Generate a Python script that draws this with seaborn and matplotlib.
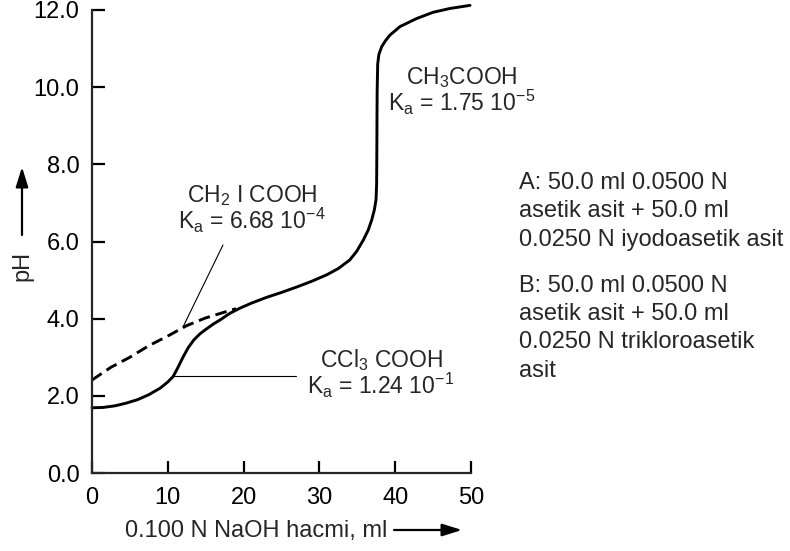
import matplotlib
matplotlib.use("Agg")
import matplotlib.pyplot as plt
import seaborn as sns
import pandas as pd

# ---- data ----
b_volume = [0, 1.5, 3, 4.5, 6, 7.5, 9, 10, 10.7, 11.3, 12, 12.7, 13.4, 14.2, 15, 16, 17,
            18.2, 19.5, 21, 23, 25, 27, 29, 31, 32.5, 34, 34.9, 35.8, 36.45, 36.9, 37.25,
            37.47, 37.55, 37.58, 37.6, 37.62, 37.69, 37.85, 38.22, 38.7, 39.31, 40.63,
            42.84, 44.99, 47.23, 49.87]
b_ph = [1.69, 1.70, 1.74, 1.81, 1.90, 2.03, 2.20, 2.36, 2.50, 2.72, 3.00, 3.25, 3.44,
        3.60, 3.72, 3.86, 3.98, 4.14, 4.27, 4.40, 4.55, 4.68, 4.82, 4.97, 5.14, 5.30,
        5.52, 5.74, 6.04, 6.30, 6.56, 6.82, 7.08, 7.50, 8.40, 9.30, 9.90, 10.60, 10.85,
        11.05, 11.20, 11.35, 11.57, 11.78, 11.94, 12.04, 12.12]

a_volume = [0, 2.5, 5, 7.5, 10, 12.5, 15, 17.5, 19]
a_ph = [2.41, 2.74, 3.00, 3.30, 3.55, 3.82, 4.02, 4.17, 4.26]

x_ticks = [0, 10, 20, 30, 40, 50]
y_ticks = [0.0, 2.0, 4.0, 6.0, 8.0, 10.0, 12.0]

label_ch3 = [r"CH$_3$COOH", r"K$_\mathrm{a}$ = 1.75 10$^{-5}$"]
label_ch2i = [r"CH$_2$ I COOH", r"K$_\mathrm{a}$ = 6.68 10$^{-4}$"]
label_ccl3 = [r"CCl$_3$ COOH", r"K$_\mathrm{a}$ = 1.24 10$^{-1}$"]
notes = ["A: 50.0 ml 0.0500 N", "asetik asit + 50.0 ml", "0.0250 N iyodoasetik asit",
         "B: 50.0 ml 0.0500 N", "asetik asit + 50.0 ml", "0.0250 N trikloroasetik", "asit"]
x_label = "0.100 N NaOH hacmi, ml"
y_label = "pH"

# ---- style ----
sns.set_style("ticks")
plt.rcParams["font.family"] = ["Liberation Sans", "DejaVu Sans"]
plt.rcParams["mathtext.fontset"] = "custom"
plt.rcParams["mathtext.rm"] = "Liberation Sans"
plt.rcParams["mathtext.it"] = "Liberation Sans:italic"
plt.rcParams["mathtext.default"] = "regular"
FS = 17
FS_ANN = 16.5

W, H = 790, 551
fig = plt.figure(figsize=(W / 100, H / 100), dpi=100)
ax = fig.add_axes([92 / W, (H - 473) / H, (471 - 92) / W, (473 - 10) / H])

df_b = pd.DataFrame({"v": b_volume, "ph": b_ph})
df_a = pd.DataFrame({"v": a_volume, "ph": a_ph})
sns.lineplot(data=df_b, x="v", y="ph", ax=ax, color="black", lw=2.1, sort=False,
             estimator=None)
sns.lineplot(data=df_a, x="v", y="ph", ax=ax, color="black", lw=2.1, sort=False,
             estimator=None)
ax.lines[-1].set_dashes((4, 2))
for ln in ax.lines:
    ln.set_clip_on(False)
    ln.set_solid_joinstyle("round")

ax.set_xlim(0, 50)
ax.set_ylim(0, 12)
ax.set_xticks(x_ticks)
ax.set_xticklabels([str(t) for t in x_ticks])
ax.set_yticks(y_ticks)
ax.set_yticklabels([f"{t:.1f}" for t in y_ticks])
ax.set_xlabel("")
ax.set_ylabel("")
for s in ["top", "right"]:
    ax.spines[s].set_visible(False)
for s in ["left", "bottom"]:
    ax.spines[s].set_linewidth(1.6)
ax.tick_params(direction="in", length=9, width=1.6, labelsize=FS, colors="black")
ax.tick_params(axis="y", pad=9)
ax.tick_params(axis="x", pad=10)
ax.patch.set_alpha(0)

# leader lines
def px2d(px, py):
    return ((px - 92) / 7.58, (473 - py) / 38.58)

x0, y0 = px2d(223, 245)
x1, y1 = px2d(183, 327)
ax.plot([x0, x1], [y0, y1], color="black", lw=0.8)
x0, y0 = px2d(173, 376)
x1, y1 = px2d(296, 376)
ax.plot([x0, x1], [y0, y1], color="black", lw=0.8)

# annotations
def label(lines, cx, b1, b2):
    x, y = px2d(cx, b1)
    ax.text(x, y, lines[0], ha="center", va="baseline", fontsize=FS_ANN, clip_on=False)
    x, y = px2d(cx, b2)
    ax.text(x, y, lines[1], ha="center", va="baseline", fontsize=FS_ANN, clip_on=False)

label(label_ch3, 462, 84, 111)
label(label_ch2i, 252, 202, 229)
label(label_ccl3, 381, 367, 394)

for txt, base in zip(notes, [189, 217, 246, 292, 320, 348, 377]):
    fig.text(519 / W, 1 - base / H, txt, ha="left", va="baseline", fontsize=FS)

# axis labels with arrows
fig.text(125 / W, 1 - 537 / H, x_label, ha="left", va="baseline", fontsize=FS)
fig.text(22 / W, 1 - 266 / H, y_label, ha="center", va="center", rotation=90, fontsize=FS)
arrow = dict(arrowstyle="-|>,head_length=0.8,head_width=0.25", lw=1.6, color="black",
             mutation_scale=15, shrinkA=0, shrinkB=0)
ax.annotate("", xy=(462, H - 530), xytext=(394, H - 530), xycoords="figure pixels",
            textcoords="figure pixels", arrowprops=arrow)
ax.annotate("", xy=(22, H - 167), xytext=(22, H - 235), xycoords="figure pixels",
            textcoords="figure pixels", arrowprops=arrow)

fig.savefig("out.png", dpi=100)
